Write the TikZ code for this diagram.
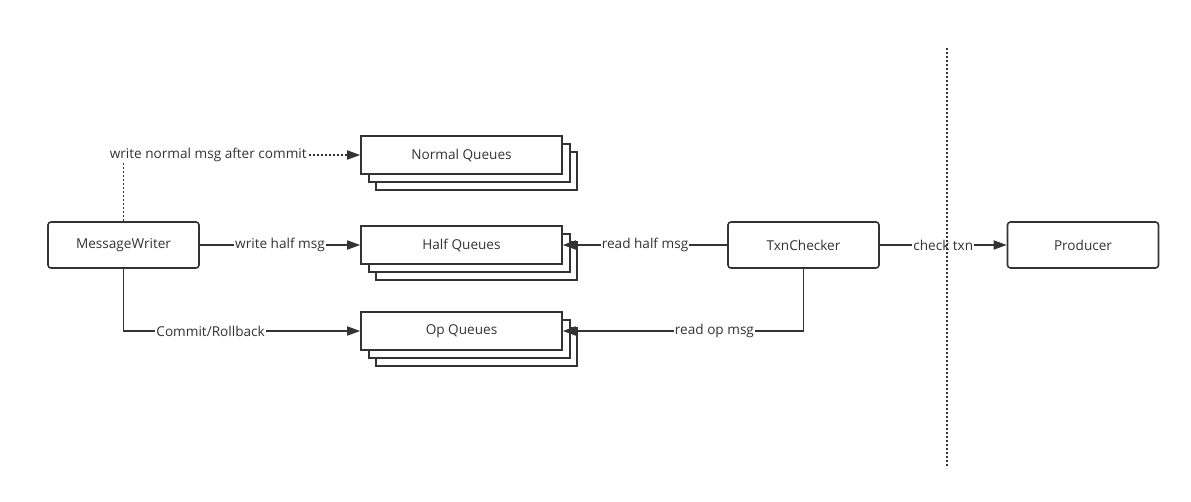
\documentclass[tikz,border=0pt]{standalone}
\usepackage{fontspec}
\setmainfont{Open Sans}
\usetikzlibrary{arrows.meta}
\definecolor{ink}{HTML}{333333}
\begin{document}
\begin{tikzpicture}[x=1pt,y=-1pt,
  txt/.style={text=ink, font=\fontsize{13.6}{16}\selectfont},
  box/.style={txt, draw=ink, line width=1.6pt, rounded corners=3pt, minimum width=151pt, minimum height=46pt, inner sep=0pt, fill=white},
  queue/.style={txt, draw=ink, line width=1.6pt, minimum width=201pt, minimum height=38pt, inner sep=0pt, fill=white},
  conn/.style={draw=ink, line width=1.6pt, -{Triangle[length=13pt,width=9pt]}},
  dots/.style={dash pattern=on 1.8pt off 2.2pt},
  lbl/.style={txt, fill=white, inner sep=1pt}]
\useasboundingbox (0,0) rectangle (1191,501);
\fill[white] (0,0) rectangle (1191,501);
% message writer
\node[box] (mw) at (123.5,245) {MessageWriter};
% Normal queues stack
\node[queue] (nq3) at (476.5,171) {};
\node[queue] (nq2) at (469.5,163) {};
\node[queue] (nq) at (461.5,155) {Normal Queues};
% Half queues stack
\node[queue] (hq3) at (476.5,261) {};
\node[queue] (hq2) at (469.5,253) {};
\node[queue] (hq) at (461.5,245) {Half Queues};
% Op queues stack
\node[queue] (oq3) at (476.5,347) {};
\node[queue] (oq2) at (469.5,339) {};
\node[queue] (oq) at (461.5,331) {Op Queues};
% checker and producer
\node[box] (tc) at (803.5,245) {TxnChecker};
\node[box] (pr) at (1083,245) {Producer};
% connectors
\draw[conn] (mw.east) -- node[lbl] {write half msg} (hq.west);
\draw[conn, dots] (mw.north) |- node[lbl, pos=0.679, dash pattern=] {write normal msg after commit} (nq.west);
\draw[conn] (mw.south) |- node[lbl, pos=0.684] {Commit/Rollback} (oq.west);
\draw[conn] (tc.west) -- node[lbl] {read half msg} (hq.east);
\draw[conn] (tc.south) |- node[lbl, pos=0.685] {read op msg} (oq.east);
\draw[conn] (tc.east) -- node[lbl] {check txn} (pr.west);
% separator
\coordinate (st) at (947,48);
\coordinate (sb) at (947,468);
\draw[draw=ink, line width=1.6pt, dots] (st) -- (sb);
\end{tikzpicture}
\end{document}
